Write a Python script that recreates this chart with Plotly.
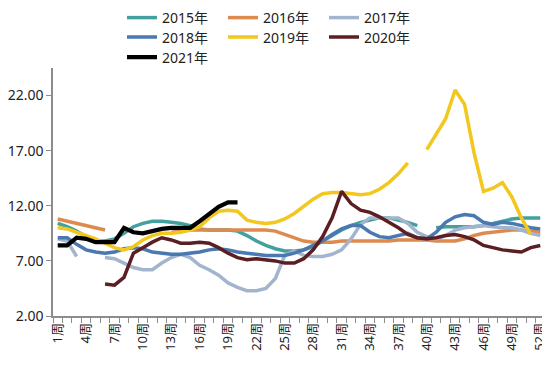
import plotly.graph_objects as go

weeks = list(range(1, 53))
tick_weeks = list(range(1, 53, 3))
tick_labels = [f"{w}周" for w in tick_weeks]
y_ticks = [2, 7, 12, 17, 22]

N = None
s2015 = [10.4, 10.1, 9.7, 9.2, 8.8, 8.8, 9.0, 9.5, 10.1, 10.4, 10.6, 10.6, 10.5, 10.4, 10.2, 9.9,
         9.8, 9.8, 9.8, 9.7, 9.3, 8.8, 8.4, 8.1, 7.9, 7.9, 8.0, 8.3, 8.8, 9.3, 9.8, 10.2, 10.5,
         10.7, 10.9, 10.9, 10.7, 10.5, 10.2, N, 10.0, 10.1, 10.1, 10.1, 10.1, 10.2, 10.4, 10.6,
         10.8, 10.9, 10.9, 10.9]
s2016 = [10.8, 10.6, 10.4, 10.2, 10.0, 9.8, N, N, N, N, N, N, 9.6, 9.7, 9.8, 9.8,
         9.8, 9.8, 9.8, 9.8, 9.8, 9.8, 9.8, 9.7, 9.4, 9.1, 8.8, 8.7, 8.7, 8.7, 8.8, 8.8, 8.8,
         8.8, 8.8, 8.8, 8.9, 8.9, 8.9, 8.9, 8.8, 8.8, 8.8, 9.0, 9.3, 9.5, 9.6, 9.7,
         9.8, 9.8, 9.7, 9.6]
s2017 = [9.0, 8.8, 7.4, N, N, 7.3, 7.2, 6.8, 6.4, 6.2, 6.2, 6.8, 7.3, 7.6, 7.3, 6.6,
         6.2, 5.7, 5.0, 4.6, 4.3, 4.3, 4.5, 5.4, 7.5, 7.9, 7.5, 7.4, 7.4, 7.6, 8.0, 9.0, 10.3,
         10.9, 10.9, 10.9, 10.9, 10.4, 9.6, 9.2, 9.0, 9.3, 9.8, 10.0, 10.1, 10.2, 10.1, 10.0,
         10.0, 9.8, 9.5, 9.3]
s2018 = [9.1, 9.1, 8.5, 8.0, 7.8, 7.7, 7.8, 8.1, 8.2, 8.1, 7.8, 7.7, 7.6, 7.6, 7.7, 7.8,
         8.0, 8.1, 8.0, 7.8, 7.7, 7.6, 7.5, 7.5, 7.5, 7.7, 8.0, 8.4, 8.8, 9.4, 9.9, 10.2, 10.2,
         9.6, 9.2, 9.1, 9.3, 9.5, 9.1, 9.0, 9.6, 10.5, 11.0, 11.2, 11.1, 10.5, 10.3, 10.5,
         10.4, 10.2, 10.0, 9.9]
s2019 = [10.0, 9.9, 9.6, 9.3, 9.0, 8.6, 8.2, 8.0, 8.3, 8.9, 9.3, 9.5, 9.5, 9.6, 9.8, 10.1,
         10.9, 11.5, 11.6, 11.5, 10.7, 10.5, 10.4, 10.5, 10.8, 11.3, 12.0, 12.6, 13.1, 13.2,
         13.2, 13.1, 13.0, 13.1, 13.5, 14.1, 14.9, 15.9, N, 17.1, 18.5, 19.9, 22.5, 21.2, 16.8,
         13.3, 13.6, 14.1, 12.8, 10.9, 9.4, N]
s2020 = [N, N, N, N, N, 4.9, 4.8, 5.5, 7.7, 8.2, 8.7, 9.1, 8.9, 8.6, 8.6, 8.7,
         8.6, 8.2, 7.7, 7.3, 7.1, 7.2, 7.1, 7.0, 6.8, 6.8, 7.2, 8.0, 9.2, 10.9, 13.3, 12.2, 11.6,
         11.4, 11.0, 10.5, 10.0, 9.4, 9.1, 9.0, 9.1, 9.3, 9.4, 9.2, 8.9, 8.4, 8.2, 8.0,
         7.9, 7.8, 8.2, 8.4]
s2021 = [8.4, 8.4, 9.1, 9.0, 8.7, 8.7, 8.7, 10.0, 9.6, 9.5, 9.7, 9.9, 10.0, 10.0, 10.0, 10.6,
         11.3, 11.9, 12.3, 12.3]

series = [
    ("2015年", s2015, "#43A09E", 3.5, "legend"),
    ("2016年", s2016, "#DD8A4E", 3.5, "legend"),
    ("2017年", s2017, "#A3B5CE", 3.5, "legend"),
    ("2018年", s2018, "#4A78B0", 3.5, "legend2"),
    ("2019年", s2019, "#F2C71E", 3.5, "legend2"),
    ("2020年", s2020, "#5A1E23", 3.5, "legend2"),
    ("2021年", s2021, "#000000", 4.2, "legend3"),
]

fig = go.Figure()
for name, vals, color, w, lg in series:
    fig.add_trace(go.Scatter(x=weeks[:len(vals)], y=vals, name=name, mode="lines",
                             line=dict(color=color, width=w), connectgaps=False, legend=lg))

W, H = 542, 361
font_family = "Noto Sans, Noto Sans CJK SC, sans-serif"
leg_common = dict(orientation="h", xref="container", yref="container", xanchor="left",
                  yanchor="middle", x=114 / W, font=dict(size=14, color="#222", family=font_family),
                  entrywidth=56, entrywidthmode="pixels", bgcolor="rgba(0,0,0,0)",
                  tracegroupgap=0, itemwidth=30)

fig.update_layout(
    width=W, height=H,
    margin=dict(l=45, r=5, t=60, b=53, autoexpand=False),
    paper_bgcolor="white", plot_bgcolor="white",
    font=dict(family=font_family, color="#222"),
    showlegend=True,
    legend=dict(leg_common, y=1 - 10 / H),
    legend2=dict(leg_common, y=1 - 29.5 / H),
    legend3=dict(leg_common, y=1 - 49.5 / H),
    xaxis=dict(range=[0.5, 52.5], tickmode="array", tickvals=tick_weeks, ticktext=tick_labels,
               tickangle=-90, ticks="", showgrid=False, zeroline=False, showline=True,
               automargin=False,
               linecolor="#8c8c8c", linewidth=1.5, tickfont=dict(size=13, color="#222"),
               minor=dict(ticks="outside", tick0=0.5, dtick=1, ticklen=5, tickcolor="#8c8c8c",
                          showgrid=False)),
    yaxis=dict(range=[2, 24.5], tickmode="array", tickvals=y_ticks, tickformat=".2f",
               ticks="outside", ticklen=5, tickcolor="#8c8c8c", showgrid=False, zeroline=False,
               automargin=False,
               showline=True, linecolor="#8c8c8c", linewidth=1.5,
               tickfont=dict(size=14, color="#222")),
)

fig.write_html("out.html")
